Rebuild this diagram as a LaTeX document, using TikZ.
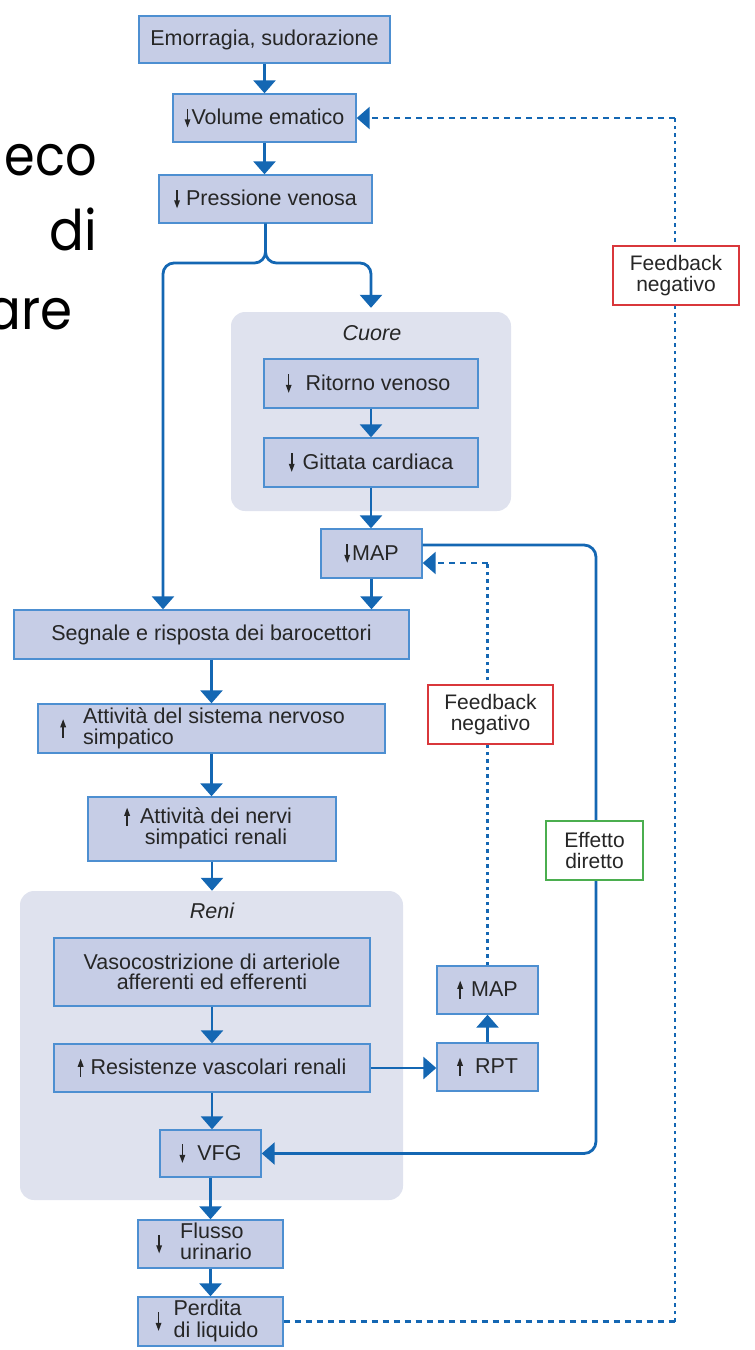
\documentclass[tikz,border=0pt]{standalone}
\usepackage{fontspec}
\setmainfont{Liberation Sans}
\newfontfamily\handfont{Poppins}
\usetikzlibrary{arrows.meta,calc}

\definecolor{flow}{HTML}{1467B3}
\definecolor{boxfill}{HTML}{C6CDE6}
\definecolor{boxline}{HTML}{4D8FD1}
\definecolor{groupfill}{HTML}{DFE2EE}
\definecolor{txt}{HTML}{262626}
\definecolor{fbred}{HTML}{D9373B}
\definecolor{fxgreen}{HTML}{4BAE4F}

% thin up/down arrows used in front of the box texts
\newcommand{\dar}{\tikz[baseline=0pt]{\fill[txt] (-0.8pt,16pt) rectangle (0.8pt,4pt);
  \fill[txt] (-3pt,5.5pt) -- (3pt,5.5pt) -- (0pt,-2.5pt) -- cycle;}}
\newcommand{\uar}{\tikz[baseline=0pt]{\fill[txt] (-0.8pt,-2.5pt) rectangle (0.8pt,9pt);
  \fill[txt] (-3pt,8pt) -- (3pt,8pt) -- (0pt,16pt) -- cycle;}}
\newcommand{\cdar}{$\vcenter{\hbox{\dar}}$}
\newcommand{\cuar}{$\vcenter{\hbox{\uar}}$}

\begin{document}
\begin{tikzpicture}[x=1pt,y=-1pt,
  box/.style={draw=boxline, fill=boxfill, line width=1.4pt, inner sep=0pt,
    text=txt, font=\fontsize{21.5}{20}\selectfont, align=center},
  group/.style={fill=groupfill, rounded corners=14pt, inner sep=0pt},
  grouplabel/.style={text=txt, font=\fontsize{21.5}{20}\selectfont\itshape},
  flowline/.style={draw=flow, line width=2.8pt},
  arr/.style={flowline, -{Triangle[width=22pt,length=13pt]}},
  fbh/.style={draw=flow, line width=2.6pt, dash pattern=on 6pt off 5pt},
  fbv/.style={draw=flow, line width=2.8pt, dash pattern=on 3.5pt off 4pt},
  fbarr/.style={-{Triangle[width=22pt,length=13pt]}},
  tag/.style={fill=white, line width=2pt, inner sep=0pt, text=txt,
    font=\fontsize{21}{21}\selectfont, align=center},
  hand/.style={font=\handfont\fontsize{56}{60}\selectfont, text=black, inner sep=0pt}
]
\useasboundingbox (0,0) rectangle (755,1350);

% title fragment at the left edge
\node[hand, anchor=base east] (h1) at (97,175) {\scalebox{0.88}[1]{eco}};
\node[hand, anchor=base east] (h2) at (97,250) {\scalebox{0.92}[1]{di}};
\node[hand, anchor=base east] (h3) at (73,329) {\scalebox{0.92}[1]{are}};

% grouping panels
\node[group, minimum width=280pt, minimum height=199pt] (cuoreg) at (371,411.5) {};
\node[grouplabel] (cuorel) at (372,333) {Cuore};
\node[group, minimum width=383pt, minimum height=309pt] (renig) at (211.5,1045.5) {};
\node[grouplabel] (renil) at (212,911) {Reni};

% boxes
\node[box, minimum width=251pt, minimum height=47pt] (emo) at (264.5,39.5) {Emorragia, sudorazione};
\node[box, minimum width=183pt, minimum height=48pt] (vol) at (264.5,118) {\dar\hspace{1pt}Volume ematico};
\node[box, minimum width=213pt, minimum height=48pt] (pres) at (265.5,199) {\dar\hspace{6pt}Pressione venosa};
\node[box, minimum width=214pt, minimum height=49pt] (rit) at (371,383.5) {\dar\hspace{14pt}Ritorno venoso\hspace{6pt}};
\node[box, minimum width=214pt, minimum height=49pt] (git) at (371,462.5) {\dar\hspace{8pt}Gittata cardiaca};
\node[box, minimum width=101pt, minimum height=49pt] (mapd) at (371.5,553.5) {\dar\hspace{2pt}MAP};
\node[box, minimum width=395pt, minimum height=49pt] (seg) at (211.5,634.5) {Segnale e risposta dei barocettori};
\node[box, minimum width=347pt, minimum height=49pt] (sns) at (211.5,728.5)
  {\fontsize{21.5}{17}\selectfont\cuar\hspace{17pt}\begin{tabular}{@{}l@{}}Attività del sistema nervoso\\simpatico\end{tabular}\hspace{18pt}};
\node[box, minimum width=248pt, minimum height=64pt] (nsr) at (212,829)
  {\fontsize{21.5}{18}\selectfont\begin{tabular}{@{}c@{}c@{}}\uar\hspace{10pt} & Attività dei nervi\\ & simpatici renali\end{tabular}\hspace{8pt}};
\node[box, minimum width=316pt, minimum height=68pt] (vaso) at (212,972) {Vasocostrizione di arteriole\\afferenti ed efferenti};
\node[box, minimum width=316pt, minimum height=48pt] (res) at (212,1068) {\uar\hspace{7pt}Resistenze vascolari renali};
\node[box, minimum width=101pt, minimum height=47pt] (vfg) at (210.5,1153.5) {\dar\hspace{12pt}VFG};
\node[box, minimum width=145pt, minimum height=48pt] (flu) at (210.5,1244)
  {\cdar\hspace{18pt}\begin{tabular}{@{}l@{}}Flusso\\urinario\end{tabular}\hspace{13pt}};
\node[box, minimum width=145pt, minimum height=49pt] (per) at (210.5,1321.5)
  {\cdar\hspace{12pt}\begin{tabular}{@{}l@{}}Perdita\\di liquido\end{tabular}\hspace{7pt}};
\node[box, minimum width=101pt, minimum height=48pt] (mapu) at (487.5,990) {\uar\hspace{8pt}MAP};
\node[box, minimum width=101pt, minimum height=48pt] (rpt) at (487.5,1067) {\uar\hspace{12pt}RPT};

% routing points
\coordinate (bl) at (163,263);
\coordinate (br) at (371,263);
\coordinate (ed1) at (596,545);
\coordinate (ed2) at (596,1153.5);
\coordinate (fm) at (489,563);
\coordinate (rloop) at (675,0);

% main flow
\draw[arr] (emo) -- (vol);
\draw[arr] (vol.south) -- (vol.south |- pres.north);
\draw[arr, rounded corners=11pt] (pres.south) |- (bl) -- (bl |- seg.north);
\draw[arr, rounded corners=11pt] (pres.south) |- (br) -- ($(br |- cuoreg.north)+(0,-4)$);
\draw[arr] (rit) -- (git);
\draw[arr] (git.south) -- (git.south |- mapd.north);
\draw[arr] (mapd.south) -- (mapd.south |- seg.north);
\draw[arr] (seg.south -| sns) -- (sns.north);
\draw[arr] (sns) -- (sns |- nsr.north);
\draw[arr] (nsr.south) -- (nsr.south |- renig.north);
\draw[arr] (vaso) -- (res);
\draw[arr] (res.south) -- (res.south |- vfg.north);
\draw[arr] (vfg.south) -- (vfg.south |- flu.north);
\draw[arr] (flu) -- (per);
\draw[arr] (res.east) -- (rpt.west |- res.east);
\draw[arr] (rpt) -- (mapu);

% direct effect of MAP on VFG
\draw[arr, rounded corners=12pt] (mapd.east |- ed1) -- (ed1) -- (ed2) -- (vfg.east);

% short feedback loop: MAP up back to MAP down
\draw[fbv] (mapu.north) -- (mapu.north |- fm);
\draw[fbh, fbarr] (mapu.north |- fm) -- (mapd.east |- fm);

% long feedback loop: fluid loss back to blood volume
\draw[fbh] (per.east) -- (per.east -| rloop);
\draw[fbv] (per.east -| rloop) -- (vol.east -| rloop);
\draw[fbh, fbarr] (vol.east -| rloop) -- (vol.east);

% loop labels
\node[tag, draw=fbred, minimum width=126pt, minimum height=59pt] (fb1) at (676,275.5) {Feedback\\negativo};
\node[tag, draw=fbred, minimum width=125pt, minimum height=59pt] (fb2) at (490.5,714.5) {Feedback\\negativo};
\node[tag, draw=fxgreen, minimum width=97pt, minimum height=59pt] (eff) at (594.5,850.5) {Effetto\\diretto};
\end{tikzpicture}
\end{document}
